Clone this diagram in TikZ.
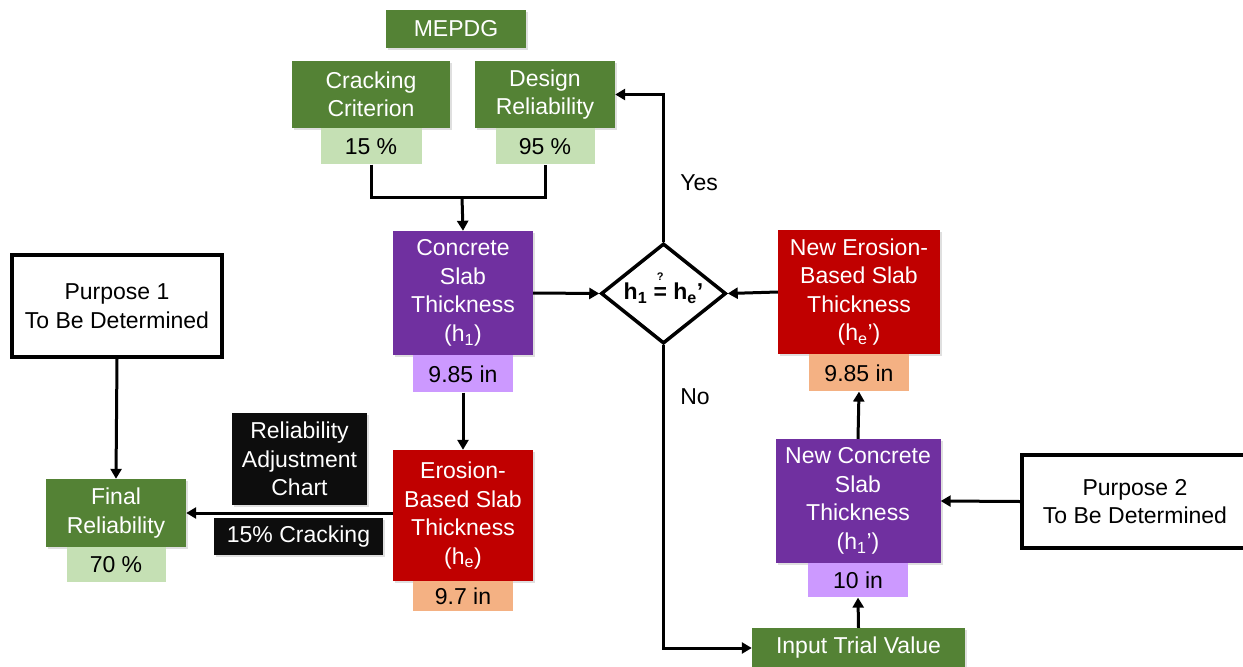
\documentclass[tikz,border=0pt]{standalone}
\usepackage{fontspec}
\setmainfont{Liberation Sans}
\usetikzlibrary{arrows.meta,positioning,shapes.geometric,shadows}

\definecolor{boxgreen}{HTML}{548235}
\definecolor{valgreen}{HTML}{C5E0B4}
\definecolor{boxpurple}{HTML}{7030A0}
\definecolor{valpurple}{HTML}{CC99FF}
\definecolor{boxred}{HTML}{C00000}
\definecolor{valorange}{HTML}{F4B183}
\definecolor{boxblack}{HTML}{0D0D0D}

\tikzset{
  box/.style={rectangle, inner sep=0pt, align=center, text=white,
    font=\fontsize{23}{28.5}\selectfont,
    drop shadow={shadow xshift=2pt, shadow yshift=-2pt, opacity=0.25}},
  val/.style={rectangle, inner sep=0pt, align=center, text=black,
    font=\fontsize{23}{28.5}\selectfont},
  purpose/.style={rectangle, draw=black, line width=4pt, fill=white, inner sep=0pt,
    align=center, font=\fontsize{23}{28.5}\selectfont},
  check/.style={diamond, draw=black, line width=3.5pt, fill=white, inner sep=0pt,
    minimum width=125pt, minimum height=87pt, font=\bfseries\fontsize{23}{28}\selectfont},
  link/.style={line width=3pt},
  arr/.style={line width=3pt, -{Triangle[length=10pt,width=11pt]}},
  tag/.style={font=\fontsize{23}{28}\selectfont}
}

\begin{document}
\begin{tikzpicture}[x=1pt,y=-1pt]
  \useasboundingbox (0,0) rectangle (1243,667);

  % MEPDG inputs
  \node[box, fill=boxgreen, minimum width=140pt, minimum height=38pt] (mepdg) at (456,29) {MEPDG};
  \node[box, fill=boxgreen, minimum width=158pt, minimum height=67pt] (crack) at (371,94.5) {Cracking\\Criterion};
  \node[val, fill=valgreen, minimum width=101pt, minimum height=36pt, below=0pt of crack] (crackval) {15 \%};
  \node[box, fill=boxgreen, minimum width=140pt, minimum height=67pt] (design) at (545,94.5) {Design\\Reliability};
  \node[val, fill=valgreen, minimum width=99pt, minimum height=36pt, below=0pt of design] (designval) {95 \%};

  % slab thickness from MEPDG
  \node[box, fill=boxpurple, minimum width=140pt, minimum height=124pt] (thick) at (463,293) {Concrete\\Slab\\Thickness\\(h\textsubscript{1})};
  \node[val, fill=valpurple, minimum width=100pt, minimum height=37pt, below=0pt of thick] (thickval) {9.85 in};
  \node[box, fill=boxred, minimum width=140pt, minimum height=131pt] (erosion) at (463,515.5) {Erosion-\\Based Slab\\Thickness\\(h\textsubscript{e})};
  \node[val, fill=valorange, minimum width=100pt, minimum height=30pt, below=0pt of erosion] (erosionval) {9.7 in};

  % reliability adjustment
  \node[box, fill=boxblack, minimum width=135pt, minimum height=92pt] (chart) at (299.5,459) {Reliability\\Adjustment\\Chart};
  \node[box, fill=boxblack, minimum width=169pt, minimum height=37pt] (cracking) at (298.5,536.5) {15\% Cracking};
  \node[box, fill=boxgreen, minimum width=140pt, minimum height=68pt] (final) at (116,513) {Final\\Reliability};
  \node[val, fill=valgreen, minimum width=99pt, minimum height=35pt, below=0pt of final] (finalval) {70 \%};
  \node[purpose, minimum width=210pt, minimum height=102pt] (purpose1) at (117,306) {Purpose 1\\To Be Determined};

  % comparison
  \node[check] (cmp) at (663.5,293.5) {h\textsubscript{1} \ooalign{=\cr\hidewidth\raisebox{19pt}{\fontsize{11}{11}\selectfont ?}\hidewidth\cr} h\textsubscript{e}'};

  % trial loop
  \node[box, fill=boxred, minimum width=162pt, minimum height=124pt] (newerosion) at (859,292) {New Erosion-\\Based Slab\\Thickness\\(h\textsubscript{e}')};
  \node[val, fill=valorange, minimum width=100pt, minimum height=37pt, below=0pt of newerosion] (newerosionval) {9.85 in};
  \node[box, fill=boxpurple, minimum width=165pt, minimum height=124pt] (newthick) at (858,501) {New Concrete\\Slab\\Thickness\\(h\textsubscript{1}')};
  \node[val, fill=valpurple, minimum width=100pt, minimum height=34pt, below=0pt of newthick] (newthickval) {10 in};
  \node[box, fill=boxgreen, minimum width=213pt, minimum height=40pt] (trial) at (858.5,648) {Input Trial Value};
  \node[purpose, minimum width=226pt, minimum height=93pt] (purpose2) at (1135,501.5) {Purpose 2\\To Be Determined};

  % connectors
  \coordinate (join) at (462,197);
  \draw[link] (crackval.south) |- (join) -| (designval.south);
  \draw[arr] (join) -- (thick.north);
  \draw[arr] (thickval.south) -- (erosion.north);
  \draw[arr] (erosion.west |- final.east) -- (final.east);
  \draw[arr] (purpose1.south) -- (final.north);
  \draw[arr] (thick.east) -- (cmp.west);
  \draw[arr] (newerosion.west) -- (cmp.east);
  \draw[arr] (cmp.north) |- (design.east) node[tag, pos=0.2, right=12pt] {Yes};
  \draw[arr] (cmp.south) |- (trial.west) node[tag, pos=0.085, right=12pt] {No};
  \draw[arr] (trial.north) -- (newthickval.south);
  \draw[arr] (newthick.north) -- (newerosionval.south);
  \draw[arr] (purpose2.west) -- (newthick.east);
\end{tikzpicture}
\end{document}
